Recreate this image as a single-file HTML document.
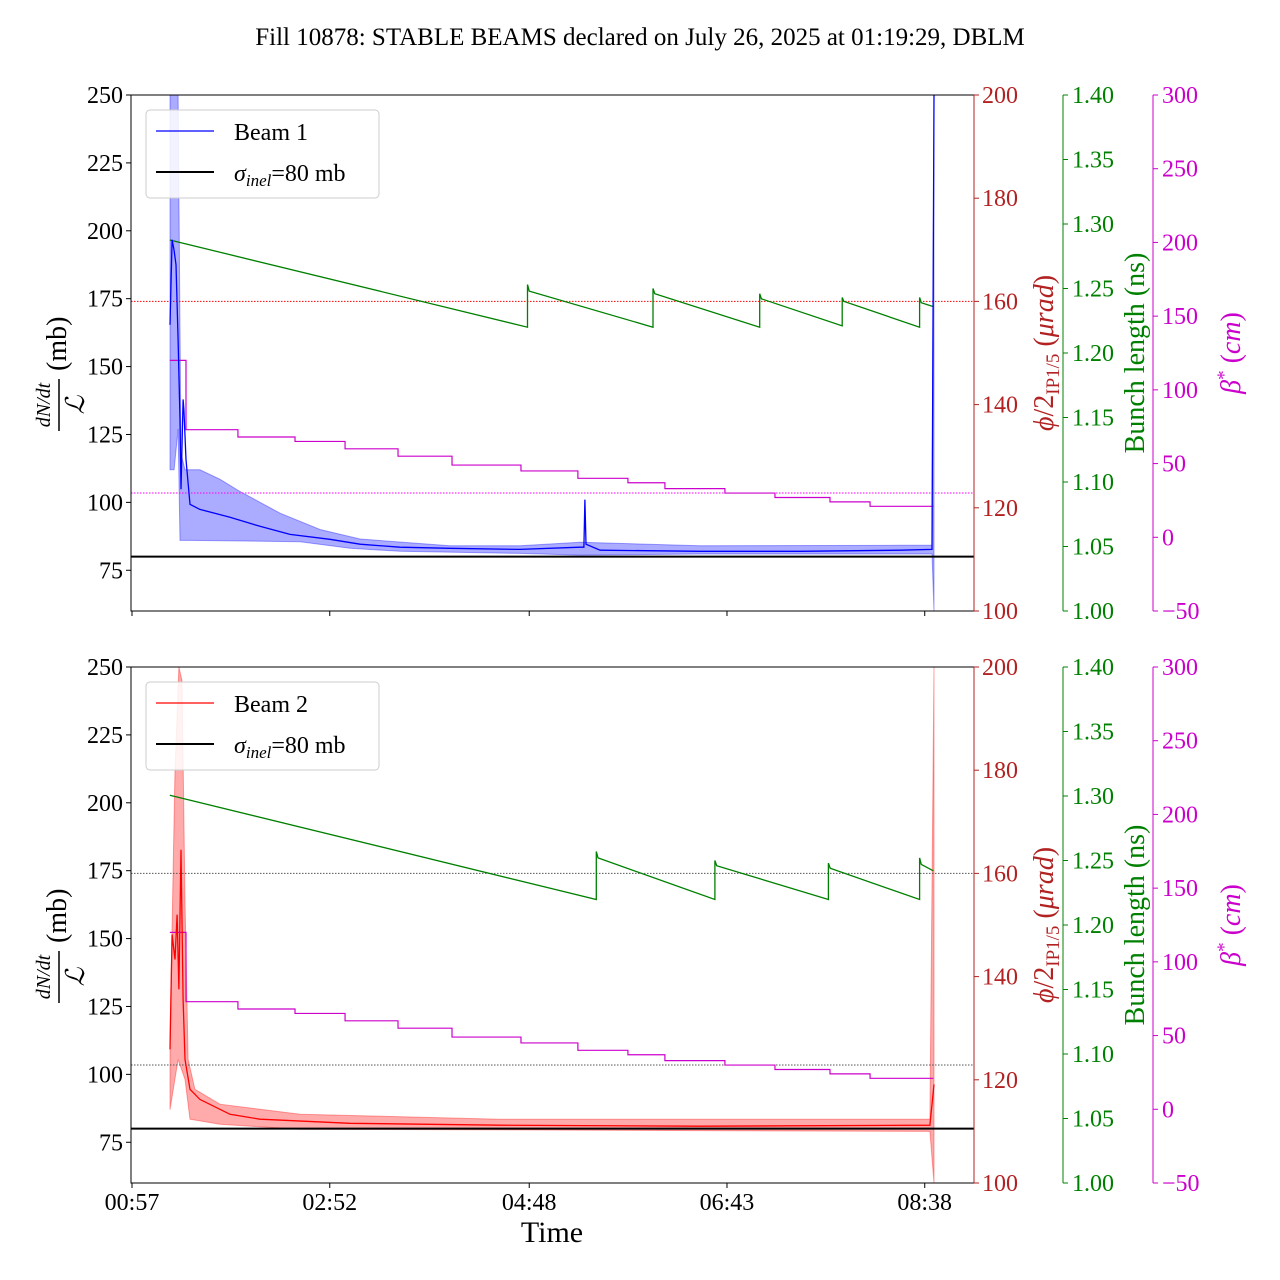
<!DOCTYPE html>
<html><head><meta charset="utf-8"><style>
body{margin:0;background:#fff;}
svg{display:block;font-family:"Liberation Serif",serif;}
</style></head><body>
<svg id="chart" width="1280" height="1280" viewBox="0 0 1280 1280" xmlns="http://www.w3.org/2000/svg">
<text x="640" y="45" font-size="25" text-anchor="middle">Fill 10878: STABLE BEAMS declared on July 26, 2025 at 01:19:29, DBLM</text>
</svg>
<script>
// ---- data (time in minutes since 00:57) ----
const timeTickLabels = ["00:57","02:52","04:48","06:43","08:38"];
const timeTickMinutes = [0,115,231,346,461];
const leftTicks = [75,100,125,150,175,200,225,250];
const redTicks = [100,120,140,160,180,200];
const greenTicks = ["1.00","1.05","1.10","1.15","1.20","1.25","1.30","1.35","1.40"];
const magTicks = [-50,0,50,100,150,200,250,300];

const b1T = [22.1,23.3,24.4,25.6,26.8,27.9,28.5,29.7,30.2,31.4,33.7,39.5,57,74.4,91.9,115.1,132.6,155.8,184.9,225.6,260.5,262.8,263.4,264,272.2,330.3,388.5,446.6,465.2,466.4];
const b1V = [165.4,196.7,193,187.5,159.9,130.5,104.8,137.9,134.2,115.8,99.3,97.4,94.5,91.2,88.2,86.4,84.6,83.5,83.1,82.7,83.5,83.5,101,84.6,82.4,82.0,82.0,82.4,82.7,250];
const b1UpT = [22.1,24.5,26.8,28.5,30.8,39.5,51.2,62.8,86.1,109.3,132.6,184.9,225.6,260.5,330.3,446.6,465.2,466.4];
const b1UpV = [250,250,250,118,112,112,108.5,104,96,90,86.5,84,84,85.3,84,84.2,84.2,250];
const b1LoT = [22.1,24.5,26.8,27.9,33.7,97.7,126.8,155.8,225.6,260.5,330.3,446.6,465.2,466.4];
const b1LoV = [112,112,127,86,86,85.5,83.1,82,81.2,80.6,81,81,81,60];

const b2T = [22.1,23.3,25,26.2,27.3,28.5,29.7,30.8,33.7,39.5,57,74.4,126.8,214,330.3,464,466.4];
const b2V = [109.2,151.5,142.3,158.8,131.3,182.7,127.6,105.5,94.5,90.8,85.3,83.5,82,81.3,80.9,81.3,96.3];
const b2UpT = [22.1,25,27.3,29.1,30.8,32.6,36.6,51.2,97.7,214,464,466.4];
const b2UpV = [113,212,250,245,164,105.5,94.5,89,85.3,83.5,83.5,250];
const b2LoT = [22.1,26.8,30.8,33.7,51.2,97.7,464,466.4];
const b2LoV = [87,105.5,98.2,83.5,81.6,79.8,79,60];

const bl1T = [22,230,230,231,303,303,304,365,365,366,413,413,414,458,458,459,466];
const bl1V = [1.2876,1.220,1.253,1.248,1.220,1.250,1.246,1.220,1.246,1.242,1.221,1.243,1.240,1.220,1.243,1.239,1.236];
const bl2T = [22,270,270,271,339,339,340,405,405,406,458,458,459,466];
const bl2V = [1.3006,1.2198,1.257,1.252,1.2198,1.250,1.246,1.2198,1.248,1.244,1.2198,1.252,1.247,1.242];

const betaT = [22,27,31.4,61.6,94.8,123.9,154.7,186.1,226.2,259.3,288.4,309.9,344.8,373.9,405.9,429.2,466];
const betaV = [120,120,73,68,65,60,55,49,45,40,37,33,30,27,24,21,20];
const xing = 160;
const betaRef = 30;

// ---- drawing ----
const NS="http://www.w3.org/2000/svg";
const svg=document.getElementById('chart');
const X0=132, PX=1.7196;
const xs=m=>X0+m*PX;
function el(tag,attrs,parent){const e=document.createElementNS(NS,tag);for(const k in attrs)e.setAttribute(k,attrs[k]);(parent||svg).appendChild(e);return e;}
function txt(s,attrs,parent){const e=el('text',attrs,parent);e.textContent=s;return e;}
function pts(T,V,ys){return T.map((t,i)=>xs(t).toFixed(1)+','+ys(V[i]).toFixed(1)).join(' ');}

function panel(top,idx,beamName,col,mT,mV,uT,uV,lT,lV,gT,gV,refCol1,refCol2){
  const bot=top+516, L=131, R=974;
  const g=el('g',{});
  
  
  const yl=v=>bot-(v-60)*516/190;
  const yr=v=>bot-(v-100)*516/100;
  const yg=v=>bot-(v-1.0)*516/0.4;
  const ym=v=>bot-(v+50)*516/350;
  const cp=el('clipPath',{id:'clip'+idx},g); el('rect',{x:L,y:top,width:R-L,height:516},cp);
  const data=el('g',{'clip-path':'url(#clip'+idx+')'},g);
  const band=el('polygon',{points:pts(uT,uV,yl)+' '+pts(lT.slice().reverse(),lV.slice().reverse(),yl),fill:col,'fill-opacity':0.33,stroke:col,'stroke-opacity':0.35,'stroke-width':1},data);
  
  
  const r1=el('line',{x1:L,x2:R,y1:yr(xing),y2:yr(xing),stroke:refCol1,'stroke-width':1,'stroke-dasharray':'1.5,1.5'},data);
  
  
  const r2=el('line',{x1:L,x2:R,y1:ym(betaRef),y2:ym(betaRef),stroke:refCol2,'stroke-width':1,'stroke-dasharray':'1.5,1.5'},data);
  
  
  let bp=[];for(let i=0;i<betaT.length-1;i++){bp.push(xs(betaT[i])+','+ym(betaV[i]));bp.push(xs(betaT[i+1])+','+ym(betaV[i]));}
  const bl=el('polyline',{points:bp.join(' '),fill:'none',stroke:'#cc00cc','stroke-width':1.2},data);
  
  
  const gl=el('polyline',{points:pts(gT,gV,yg),fill:'none',stroke:'green','stroke-width':1.3},data);
  
  
  const ml=el('polyline',{points:pts(mT,mV,yl),fill:'none',stroke:col,'stroke-width':1.3},data);
  
  
  const si=el('line',{x1:L,x2:R,y1:yl(80),y2:yl(80),stroke:'#000','stroke-width':2},data);
  
  
  el('rect',{x:L,y:top,width:R-L,height:516,fill:'none',stroke:'#000','stroke-width':1},g);
  leftTicks.forEach(v=>{const y=yl(v);el('line',{x1:L-5,x2:L,y1:y,y2:y,stroke:'#000'},g);
    const t=txt(v,{x:L-8,y:y+8,'font-size':24,'text-anchor':'end'},g);
    
    });
  el('line',{x1:R,x2:R,y1:top,y2:bot,stroke:'#b22222'},g);
  redTicks.forEach(v=>{const y=yr(v);el('line',{x1:R,x2:R+5,y1:y,y2:y,stroke:'#b22222'},g);
    const t=txt(v,{x:R+8,y:y+8,'font-size':24,fill:'#b22222'},g);
    
    });
  const GX=1063;
  el('line',{x1:GX,x2:GX,y1:top,y2:bot,stroke:'green'},g);
  greenTicks.forEach(v=>{const y=yg(+v);el('line',{x1:GX,x2:GX+5,y1:y,y2:y,stroke:'green'},g);
    const t=txt(v,{x:GX+9,y:y+8,'font-size':24,fill:'green'},g);
    
    });
  const MX=1153;
  el('line',{x1:MX,x2:MX,y1:top,y2:bot,stroke:'#cc00cc'},g);
  magTicks.forEach(v=>{const y=ym(v);el('line',{x1:MX,x2:MX+5,y1:y,y2:y,stroke:'#cc00cc'},g);
    const t=txt(v<0?'\u2212'+(-v):v,{x:MX+9,y:y+8,'font-size':24,fill:'#cc00cc'},g);
    
    });
  timeTickMinutes.forEach(m=>el('line',{x1:xs(m),x2:xs(m),y1:bot,y2:bot+5,stroke:'#000'},g));
  const cy=top+258;
  const lt=el('g',{transform:'translate(62,'+cy+') rotate(-90)'},g);
  
  
  txt('dN/dt',{x:-52,y:-12,'font-size':20,'font-style':'italic','text-anchor':'middle'},lt);
  el('line',{x1:-78,x2:-26,y1:-3,y2:-3,stroke:'#000','stroke-width':1.5},lt);
  txt('\u2112',{x:-52,y:22,'font-size':26,'font-style':'italic','text-anchor':'middle'},lt);
  txt('(mb)',{x:-18,y:4,'font-size':28},lt);
  const rt=txt('',{transform:'translate(1053,'+cy+') rotate(-90)','font-size':28,fill:'#b22222','text-anchor':'middle'},g);
  rt.innerHTML='<tspan font-style="italic">ϕ</tspan>/2<tspan font-size="19" dy="6">IP1/5</tspan><tspan dy="-6"> (</tspan><tspan font-style="italic">μrad</tspan>)';
  
  
  const gtt=txt('Bunch length (ns)',{transform:'translate(1144,'+cy+') rotate(-90)','font-size':28,fill:'green','text-anchor':'middle'},g);
  
  
  const mtt=txt('',{transform:'translate(1240,'+cy+') rotate(-90)','font-size':28,fill:'#cc00cc','text-anchor':'middle'},g);
  mtt.innerHTML='<tspan font-style="italic">β</tspan><tspan font-size="19" dy="-10">*</tspan><tspan dy="10"> (</tspan><tspan font-style="italic">cm</tspan>)';
  
  
  const lg=el('g',{},g);
  
  
  el('rect',{x:146,y:top+15,width:233,height:88,rx:4,fill:'#fff','fill-opacity':0.85,stroke:'#ccc'},lg);
  el('line',{x1:156,x2:214,y1:top+36,y2:top+36,stroke:col,'stroke-width':1.3},lg);
  txt(beamName,{x:234,y:top+45,'font-size':24},lg);
  el('line',{x1:156,x2:214,y1:top+77,y2:top+77,stroke:'#000','stroke-width':2},lg);
  const s=txt('',{x:234,y:top+86,'font-size':24},lg);
  s.innerHTML='<tspan font-style="italic">σ</tspan><tspan font-style="italic" font-size="17" dy="5">inel</tspan><tspan dy="-5">=80 mb</tspan>';
}
panel(95,1,'Beam 1','#0000ff',b1T,b1V,b1UpT,b1UpV,b1LoT,b1LoV,bl1T,bl1V,'#ff0000','#ff00ff');
panel(667,2,'Beam 2','#ff0000',b2T,b2V,b2UpT,b2UpV,b2LoT,b2LoV,bl2T,bl2V,'#555','#555');
timeTickLabels.forEach((s,i)=>{const t=txt(s,{x:xs(timeTickMinutes[i]),y:1210,'font-size':24,'text-anchor':'middle'});
  
  });
const xt=txt('Time',{x:552,y:1242,'font-size':30,'text-anchor':'middle'});


</script>
</body></html>
